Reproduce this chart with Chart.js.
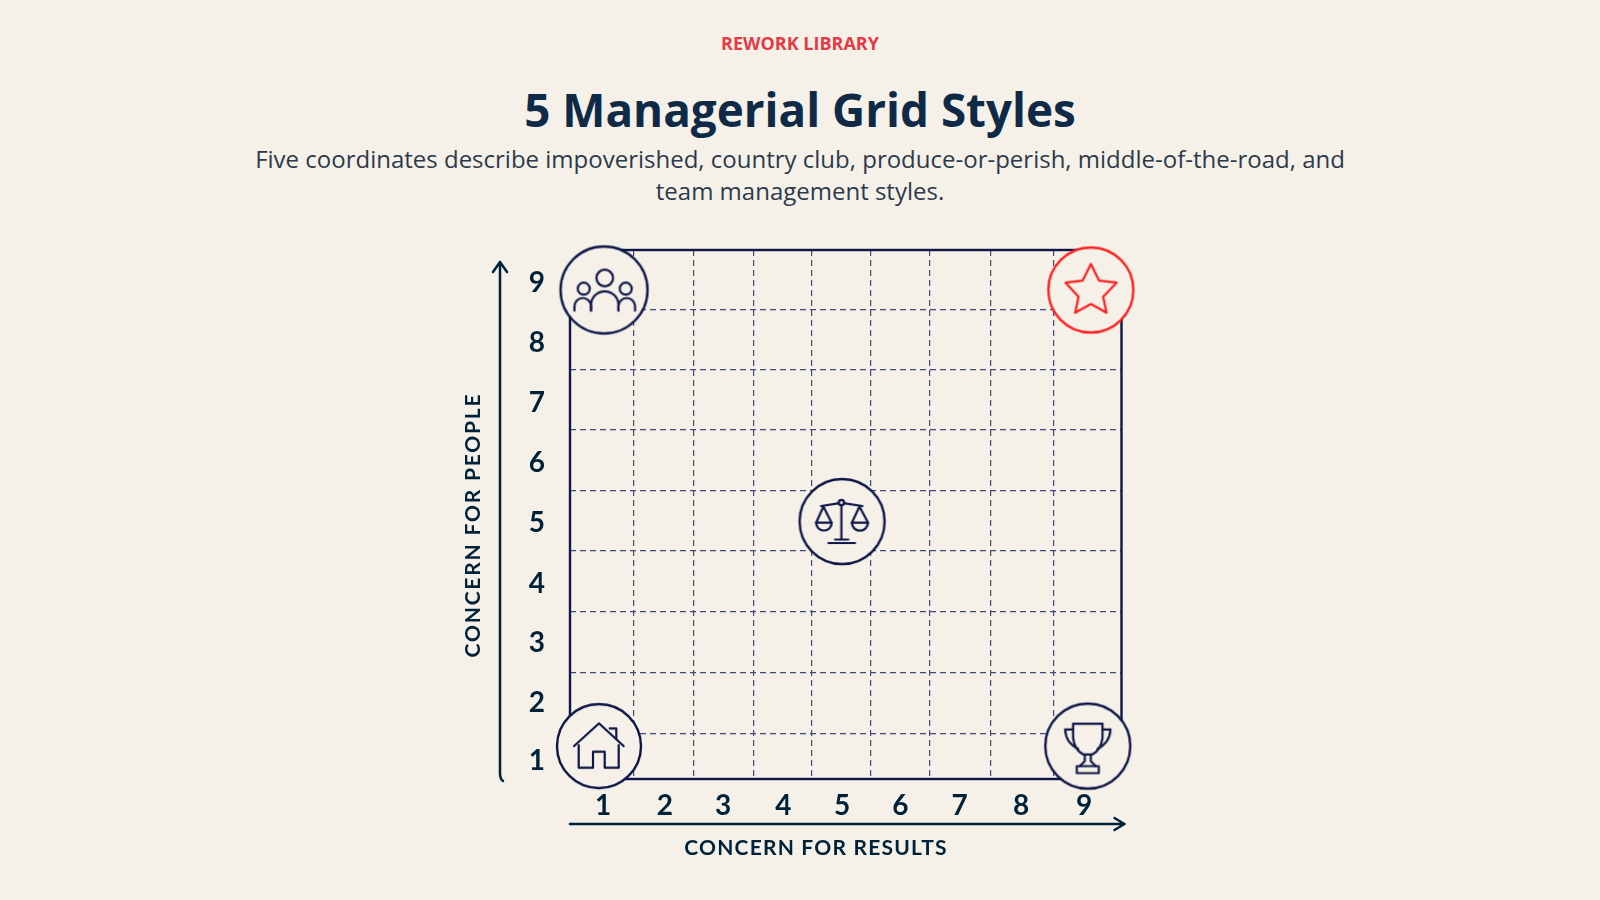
<!DOCTYPE html>
<html>
<head>
<meta charset="utf-8">
<title>5 Managerial Grid Styles</title>
<script src="https://cdn.jsdelivr.net/npm/chart.js@4"></script>
<style>
  html, body { margin: 0; padding: 0; background: #f5f1e9; }
  body { width: 1600px; height: 900px; position: relative; overflow: hidden; font-family: 'Open Sans', sans-serif; }
  .eyebrow, h1, .sub { position: absolute; left: 0; width: 1600px; text-align: center; margin: 0; }
  .eyebrow { top: 31px; font-size: 18px; font-weight: 700; color: #e63946; }
  h1 { top: 78px; font-size: 45.8px; line-height: 62px; font-weight: 700; color: #0f2a47; }
  .sub { top: 143px; font-size: 24px; line-height: 32px; color: #2d3a4a; }
  .wrap { position: absolute; left: 0; top: 0; width: 1600px; height: 900px; }
</style>
</head>
<body>
<div class="eyebrow">REWORK LIBRARY</div>
<h1>5 Managerial Grid Styles</h1>
<div class="sub">Five coordinates describe impoverished, country club, produce-or-perish, middle-of-the-road, and<br>team management styles.</div>
<div class="wrap"><canvas id="chart"></canvas></div>
<script>
const xTickLabels = ['1', '2', '3', '4', '5', '6', '7', '8', '9'];
const yTickLabels = ['1', '2', '3', '4', '5', '6', '7', '8', '9'];
// tick and grid places, the cells are not quite even
const xTickPos = [1.04, 2.05, 3.0, 3.98, 4.94, 5.89, 6.86, 7.86, 8.89];
const yTickPos = [0.80, 1.80, 2.81, 3.82, 4.85, 5.87, 6.89, 7.91, 8.94];
const xGridPos = [1.544, 2.524, 3.503, 4.449, 5.404, 6.375, 7.37, 8.398];
const yGridPos = [1.266, 2.303, 3.341, 4.379, 5.40, 6.44, 7.467, 8.484];

const styleNames = ['impoverished', 'country club', 'middle-of-the-road', 'produce-or-perish', 'team'];
const styleResults = [0.973, 1.055, 4.94, 8.95, 9.0];
const stylePeople = [1.06, 8.82, 4.88, 1.06, 8.82];

const xTitle = 'CONCERN FOR RESULTS';
const yTitle = 'CONCERN FOR PEOPLE';

const BG = '#f5f1e9';
const NAVY = '#0e1648';
const RED = '#fa1e1e';
const INK = '#002238';

function poly(c, pts, close) {
  c.beginPath();
  pts.forEach((p, i) => i ? c.lineTo(p[0], p[1]) : c.moveTo(p[0], p[1]));
  if (close) c.closePath();
  c.stroke();
}

// corner: which corner of the frame this circle has to hide
function makeIcon(color, r, drawGlyph, corner) {
  const cv = document.createElement('canvas');
  const half = r + 8;
  cv.width = cv.height = 2 * half;
  const c = cv.getContext('2d');
  c.translate(half, half);
  c.strokeStyle = color;
  c.fillStyle = BG;
  if (corner) {
    const x0 = corner[0] < 0 ? -half : 12, y0 = corner[1] < 0 ? -half : 12;
    c.fillRect(x0, y0, half - 12, half - 12);
  }
  c.lineWidth = 2.4;
  c.beginPath();
  c.arc(0, 0, r, 0, Math.PI * 2);
  c.fill();
  c.stroke();
  c.lineWidth = 2.2;
  c.lineJoin = 'round';
  c.lineCap = 'round';
  drawGlyph(c);
  return cv;
}

function house(c) {
  poly(c, [[-25, 0], [0, -22.7], [24.7, 0]]);
  poly(c, [[10.7, -17.7], [17.3, -17.7], [17.3, -7.7]]);
  poly(c, [[-20.3, -1], [-20.3, 21.7], [-6, 21.7], [-6, 5.7], [5.7, 5.7], [5.7, 21.7], [19.7, 21.7], [19.7, -1]]);
}

function people(c) {
  c.beginPath(); c.arc(0.7, -12, 8.3, 0, Math.PI * 2); c.stroke();
  c.beginPath(); c.arc(-20.3, -1.3, 6, 0, Math.PI * 2); c.stroke();
  c.beginPath(); c.arc(21.7, -1.3, 6, 0, Math.PI * 2); c.stroke();
  c.beginPath(); c.moveTo(-13, 20.7); c.arc(0.7, 15, 13.7, Math.PI, 0); c.lineTo(14.4, 20.7); c.stroke();
  c.beginPath(); c.moveTo(-29.6, 20.7); c.arc(-21.3, 16.3, 8.3, Math.PI, 0); c.lineTo(-13, 20.7); c.stroke();
  c.beginPath(); c.moveTo(14.4, 20.7); c.arc(22.7, 16.3, 8.3, Math.PI, 0); c.lineTo(31, 20.7); c.stroke();
}

function balance(c) {
  c.beginPath(); c.arc(-0.7, -19, 2.7, 0, Math.PI * 2); c.stroke();
  poly(c, [[-0.7, -16.3], [-0.7, 17.5]]);
  poly(c, [[-13.7, 21.5], [13, 21.5]]);
  poly(c, [[-7, 18], [6.3, 18]]);
  poly(c, [[-21, -15.5], [-3, -18.3]]);
  poly(c, [[1.6, -18.3], [20.3, -15.5]]);
  poly(c, [[-26, 1.2], [-18.7, -15], [-10.5, 1.2], [-26, 1.2]]);
  c.beginPath(); c.arc(-18.2, 1.2, 7.8, 0, Math.PI); c.stroke();
  poly(c, [[9.7, 1.2], [17.3, -15], [26, 1.2], [9.7, 1.2]]);
  c.beginPath(); c.arc(17.8, 1.2, 8, 0, Math.PI); c.stroke();
}

function trophy(c) {
  c.beginPath();
  c.moveTo(-14.7, -22.3); c.lineTo(14.7, -22.3); c.lineTo(14.7, -8);
  c.quadraticCurveTo(13, 4, 4.7, 8.3); c.lineTo(-4.7, 8.3);
  c.quadraticCurveTo(-13, 4, -14.7, -8); c.closePath(); c.stroke();
  c.beginPath();
  c.moveTo(-14.7, -16.7); c.lineTo(-22.7, -16.7); c.quadraticCurveTo(-22, -3, -9.7, 2.7);
  c.moveTo(14.7, -16.7); c.lineTo(22.7, -16.7); c.quadraticCurveTo(22, -3, 9.7, 2.7);
  c.stroke();
  poly(c, [[-3, 8.3], [-3, 15], [-8, 20]]);
  poly(c, [[3, 8.3], [3, 15], [8, 20]]);
  poly(c, [[-11, 20], [11, 20], [11, 27], [-11, 27]], true);
}

function star(c) {
  poly(c, [[0, -26], [8.3, -9.3], [25.7, -7.3], [12.3, 6.7], [15.7, 22.7], [0, 14],
    [-15.7, 22.7], [-12.3, 6.7], [-25.3, -7.3], [-8.3, -9.3]], true);
}

const icons = [
  makeIcon(NAVY, 42, house, [-1, 1]),
  makeIcon(NAVY, 43.5, people, [-1, -1]),
  makeIcon(NAVY, 42.5, balance),
  makeIcon(NAVY, 42.5, trophy, [1, 1]),
  makeIcon(RED, 42.5, star, [1, -1])
];

// frame goes under the points so the circles sit on top of it
const frame = {
  id: 'frame',
  beforeDatasetsDraw(chart) {
    const a = chart.chartArea, c = chart.ctx;
    c.save();
    c.strokeStyle = NAVY;
    c.lineWidth = 2.4;
    c.strokeRect(a.left, a.top, a.right - a.left, a.bottom - a.top);
    c.restore();
  }
};

const axisArrows = {
  id: 'axisArrows',
  afterDraw(chart) {
    const a = chart.chartArea, c = chart.ctx;
    c.save();
    c.strokeStyle = INK;
    c.fillStyle = INK;
    c.lineWidth = 2.5;
    c.lineCap = 'round';
    c.lineJoin = 'round';
    // people arrow, left of the tick labels
    const ax = a.left - 70, top = a.top + 12;
    c.beginPath();
    c.moveTo(ax + 3, a.bottom + 2);
    c.quadraticCurveTo(ax, a.bottom, ax, a.bottom - 6);
    c.lineTo(ax, top);
    c.moveTo(ax - 7, top + 10);
    c.lineTo(ax, top);
    c.lineTo(ax + 7, top + 10);
    c.stroke();
    // results arrow, under the tick labels
    const ay = a.bottom + 45, end = a.right + 3;
    c.beginPath();
    c.moveTo(a.left, ay);
    c.lineTo(end, ay);
    c.moveTo(end - 10, ay - 6);
    c.lineTo(end, ay);
    c.lineTo(end - 10, ay + 6);
    c.stroke();
    // axis titles
    c.font = '700 21px Lato';
    c.textAlign = 'center';
    c.textBaseline = 'middle';
    c.letterSpacing = '1.2px';
    c.fillText(xTitle, 816, ay + 24);
    c.letterSpacing = '1.8px';
    c.translate(473, 525);
    c.rotate(-Math.PI / 2);
    c.fillText(yTitle, 0, 0);
    c.restore();
  }
};

const tickFont = { family: 'Lato', size: 28, weight: '700' };

new Chart(document.getElementById('chart'), {
  type: 'scatter',
  plugins: [frame, axisArrows],
  data: {
    datasets: [{
      label: 'Management styles',
      data: styleNames.map((n, i) => ({ x: styleResults[i], y: stylePeople[i], name: n })),
      pointStyle: icons,
      pointRadius: 44,
      clip: false
    }]
  },
  options: {
    responsive: true,
    maintainAspectRatio: false,
    animation: false,
    layout: { padding: { left: 470, top: 250, right: 478.5, bottom: 21 } },
    plugins: { legend: { display: false }, tooltip: { enabled: false } },
    scales: {
      x: {
        type: 'linear', min: 0.5, max: 9.5,
        afterBuildTicks: s => { s.ticks = xTickPos.map(v => ({ value: v })); },
        afterFit: s => { s.height = 100; },
        grid: { display: false },
        border: { display: false },
        ticks: {
          padding: 2, autoSkip: false, maxRotation: 0, font: tickFont, color: INK,
          callback: (v, i) => xTickLabels[i]
        }
      },
      xGrid: {
        type: 'linear', position: 'bottom', min: 0.5, max: 9.5,
        afterBuildTicks: s => { s.ticks = xGridPos.map(v => ({ value: v })); },
        grid: { color: '#3f4a78', lineWidth: 1.2, drawTicks: false },
        border: { display: false, dash: [6, 4] },
        ticks: { display: false }
      },
      y: {
        type: 'linear', min: 0.5, max: 9.5,
        afterBuildTicks: s => { s.ticks = yTickPos.map(v => ({ value: v })); },
        afterFit: s => { s.width = 100; },
        grid: { display: false },
        border: { display: false },
        ticks: {
          padding: 17, autoSkip: false, font: tickFont, color: INK,
          callback: (v, i) => yTickLabels[i]
        }
      },
      yGrid: {
        type: 'linear', position: 'left', min: 0.5, max: 9.5,
        afterBuildTicks: s => { s.ticks = yGridPos.map(v => ({ value: v })); },
        grid: { color: '#3f4a78', lineWidth: 1.2, drawTicks: false },
        border: { display: false, dash: [6, 4] },
        ticks: { display: false }
      }
    }
  }
});
</script>
</body>
</html>
